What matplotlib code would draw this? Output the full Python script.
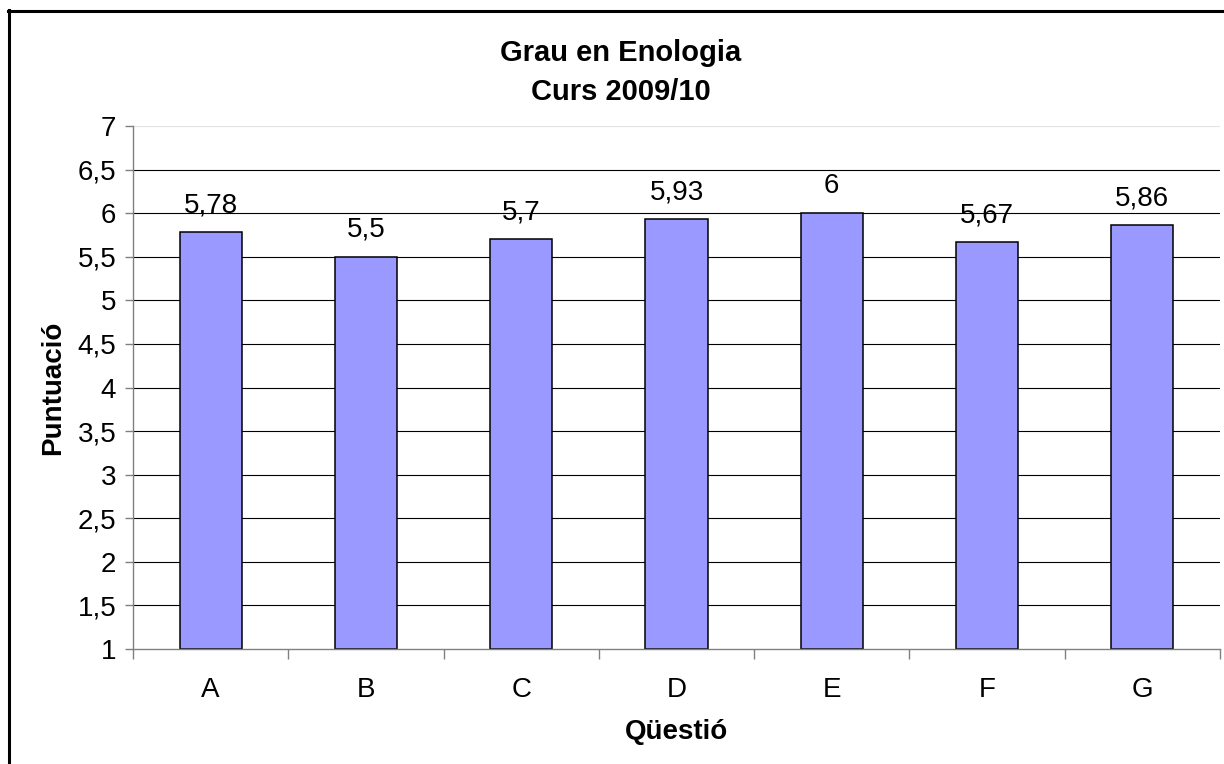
import matplotlib
matplotlib.use("Agg")
import matplotlib.pyplot as plt
from matplotlib.lines import Line2D
import numpy as np

plt.rcParams['font.family'] = ['Liberation Sans', 'DejaVu Sans']

### chart data
questions = ['A', 'B', 'C', 'D', 'E', 'F', 'G']
scores = [5.78, 5.5, 5.7, 5.93, 6.0, 5.67, 5.86]
labels = ['5,78', '5,5', '5,7', '5,93', '6', '5,67', '5,86']
yticks = [1, 1.5, 2, 2.5, 3, 3.5, 4, 4.5, 5, 5.5, 6, 6.5, 7]
ytick_labels = ['1', '1,5', '2', '2,5', '3', '3,5', '4', '4,5', '5', '5,5', '6', '6,5', '7']

fig = plt.figure(figsize=(12.24, 7.64), dpi=100)
ax = fig.add_axes([133/1224, 1 - 649/764, (1220 - 133)/1224, (649 - 126)/764])

x = np.arange(len(questions))
# gridlines behind bars
for y in yticks[1:]:
    col = '#e3e3e3' if y == 7 else 'black'
    ax.axhline(y, color=col, lw=0.8, zorder=1)

bars = ax.bar(x, [s - 1 for s in scores], bottom=1, width=0.4,
              color='#9999ff', edgecolor='black', linewidth=1.1, zorder=2)

for xi, s, lab in zip(x, scores, labels):
    ax.annotate(lab, (xi, s), xytext=(0, 10), textcoords='offset points',
                ha='center', va='bottom', fontsize=20)

ax.set_xlim(-0.5, len(questions) - 0.5)
ax.set_ylim(1, 7)
ax.set_yticks(yticks)
ax.set_yticklabels(ytick_labels, fontsize=20)
ax.set_xticks(x)
ax.set_xticklabels(questions, fontsize=20)
ax.set_xticks(np.arange(-0.5, len(questions)), minor=True)
ax.tick_params(axis='x', which='major', length=0, pad=20)
ax.tick_params(axis='x', which='minor', length=7, color='#808080', width=1)
ax.tick_params(axis='y', length=6, color='#808080', width=1, pad=6)

for side in ['top', 'right']:
    ax.spines[side].set_visible(False)
for side in ['left', 'bottom']:
    ax.spines[side].set_color('#808080')
    ax.spines[side].set_linewidth(1)

ax.set_ylabel('Puntuació', fontsize=20, fontweight='bold', labelpad=8)
fig.text(677/1224, 1 - 732/764, 'Qüestió', fontsize=20, fontweight='bold',
         ha='center', va='center')

fig.text(621/1224, 1 - 53/764, 'Grau en Enologia', fontsize=21, fontweight='bold',
         ha='center', va='center')
fig.text(621/1224, 1 - 92/764, 'Curs 2009/10', fontsize=21, fontweight='bold',
         ha='center', va='center')

# outer chart border (top and left edges visible)
fig.add_artist(Line2D([8.5/1224, 8.5/1224], [0, 1 - 10/764], color='black', lw=2.2,
                      transform=fig.transFigure))
fig.add_artist(Line2D([8/1224, 1], [1 - 10.5/764, 1 - 10.5/764], color='black', lw=2.2,
                      transform=fig.transFigure))

fig.savefig('out.png', dpi=100)
